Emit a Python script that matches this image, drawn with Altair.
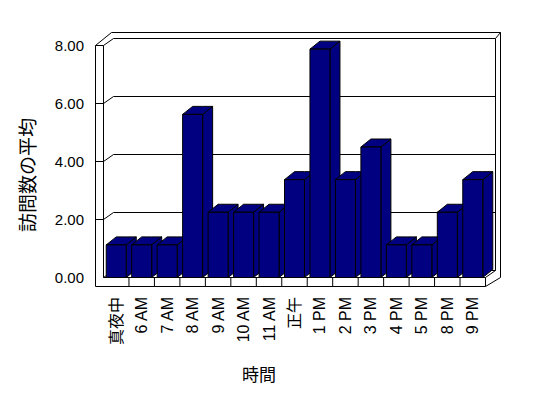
import altair as alt
import pandas as pd

# ---------------- data ----------------
CATEGORIES = ["真夜中", "6 AM", "7 AM", "8 AM", "9 AM", "10 AM", "11 AM", "正午",
              "1 PM", "2 PM", "3 PM", "4 PM", "5 PM", "8 PM", "9 PM"]
VALUES = [1.125, 1.125, 1.125, 5.625, 2.25, 2.25, 2.25, 3.375,
          7.875, 3.375, 4.5, 1.125, 1.125, 2.25, 3.375]
Y_TICKS = [0, 2, 4, 6, 8]
X_TITLE = "時間"
Y_TITLE = "訪問数の平均"

# ---------------- style / layout ----------------
FONT = "Liberation Sans, Noto Sans CJK JP"
BAR_FILL = "#000080"
W, H = 405, 254
X_RANGE = [8, 390]
Y_RANGE = [245, 13]
N = len(CATEGORIES)
Y_MAX = Y_TICKS[-1]
XU = (X_RANGE[1] - X_RANGE[0]) / N      # px per category
YU = (Y_RANGE[0] - Y_RANGE[1]) / Y_MAX  # px per unit

BAR_W = 20
BAR_DX, BAR_DY = 10, 8
WALL_DX, WALL_DY = 10, 7
WALL = 8
FLOOR = 9
OUT_DX, OUT_DY = 16, 13
OUT_R = 15

# ---------------- derived tables ----------------
pad = (1 - BAR_W / XU) / 2
bdx, bdy = BAR_DX / XU, BAR_DY / YU
front, top, side = [], [], []
for i, v in enumerate(VALUES):
    x0, x1 = i + pad, i + 1 - pad
    front.append({"x": x0, "x2": x1, "y": 0, "y2": v})
    for (xx, a, b) in [(x0, v, v), (x0 + bdx, v, v + bdy), (x1, v, v + bdy), (x1 + bdx, v + bdy, v + bdy)]:
        top.append({"bar": i, "x": xx, "y": a, "y2": b})
    for (xx, a, b) in [(x1, 0, v), (x1 + bdx, bdy, v + bdy)]:
        side.append({"bar": i, "x": xx, "y": a, "y2": b})

ddx, ddy = WALL_DX / XU, WALL_DY / YU
xl = -WALL / XU
ox, oy = OUT_DX / XU, OUT_DY / YU
xr = N + OUT_R / XU
fb = -FLOOR / YU
T = Y_MAX
segs = [
    (xl, T, xl, fb), (0, T, 0, 0), (xl, T, 0, T),
    (xl, T, xl + ox, T + oy), (0, T, ddx, T + ddy),
    (xl + ox, T + oy, xr, T + oy), (ddx, T + ddy, N + ddx, T + ddy),
    (N + ddx, T + ddy, N + ddx, ddy), (N + ddx, T + ddy, xr, T + oy),
    (xr, T + oy, xr, 0), (xr, 0, N, fb),
    (xl, fb, N, fb), (0, 0, N, 0), (N, 0, N + ddx, ddy), (0, 0, ddx, ddy),
    (ddx, ddy, N + ddx, ddy),
]
for v in Y_TICKS[1:-1]:
    segs.append((ddx, v + ddy, N + ddx, v + ddy))
    segs.append((xl, v, 0, v))
    segs.append((0, v, ddx, v + ddy))
for i in range(1, N + 1):
    segs.append((i, 0, i, fb))
seg_df = pd.DataFrame(segs, columns=["x", "y", "x2", "y2"])

# ---------------- encodings ----------------
label_expr = "[" + ",".join("'" + c + "'" for c in CATEGORIES) + "][floor(datum.value)]"
xs = alt.Scale(domain=[0, N], range=X_RANGE, nice=False, zero=False)
ys = alt.Scale(domain=[0, Y_MAX], range=Y_RANGE, nice=False, zero=False)
x_enc = alt.X("x:Q", scale=xs, axis=alt.Axis(
    values=[i + 0.5 for i in range(N)], labelExpr=label_expr,
    labelAngle=270, labelAlign="right", labelBaseline="middle",
    labelPadding=10, labelFontSize=16, ticks=False, domain=False, grid=False,
    title=X_TITLE, titleFontSize=17, titleX=163, titleY=94,
    titleAlign="center", titleBaseline="alphabetic"))
y_enc = alt.Y("y:Q", scale=ys, axis=alt.Axis(
    values=Y_TICKS, format=".2f", labelFontSize=15, labelPadding=12,
    ticks=False, domain=False, grid=False,
    title=Y_TITLE, titleFontSize=19, titleAngle=270, titleX=-67, titleY=142,
    titleAlign="center", titleBaseline="middle"))

frame = alt.Chart(seg_df).mark_rule(color="black", strokeWidth=1).encode(
    x=x_enc, y=y_enc, x2="x2:Q", y2="y2:Q")
sides = alt.Chart(pd.DataFrame(side)).mark_area(
    fill=BAR_FILL, stroke="black", strokeWidth=1, opacity=1).encode(
    x=x_enc, y=y_enc, y2="y2:Q", detail="bar:N")
tops = alt.Chart(pd.DataFrame(top)).mark_area(
    fill=BAR_FILL, stroke="black", strokeWidth=1, opacity=1).encode(
    x=x_enc, y=y_enc, y2="y2:Q", detail="bar:N")
fronts = alt.Chart(pd.DataFrame(front)).mark_rect(
    fill=BAR_FILL, stroke="black", strokeWidth=1).encode(
    x=x_enc, x2="x2:Q", y=y_enc, y2="y2:Q")

chart = alt.layer(frame, sides, tops, fronts).properties(
    width=W, height=H,
    autosize=alt.AutoSizeParams(type="none"),
    padding={"left": 87.5, "top": 24.5, "right": 39.5, "bottom": 103.5},
    background="white",
).configure_view(stroke=None).configure_axis(
    labelFont=FONT, titleFont="Noto Sans CJK JP", labelColor="black", titleColor="black",
    titleFontWeight="normal")

chart.save("out.html", embed_options={"renderer": "svg", "actions": False})
